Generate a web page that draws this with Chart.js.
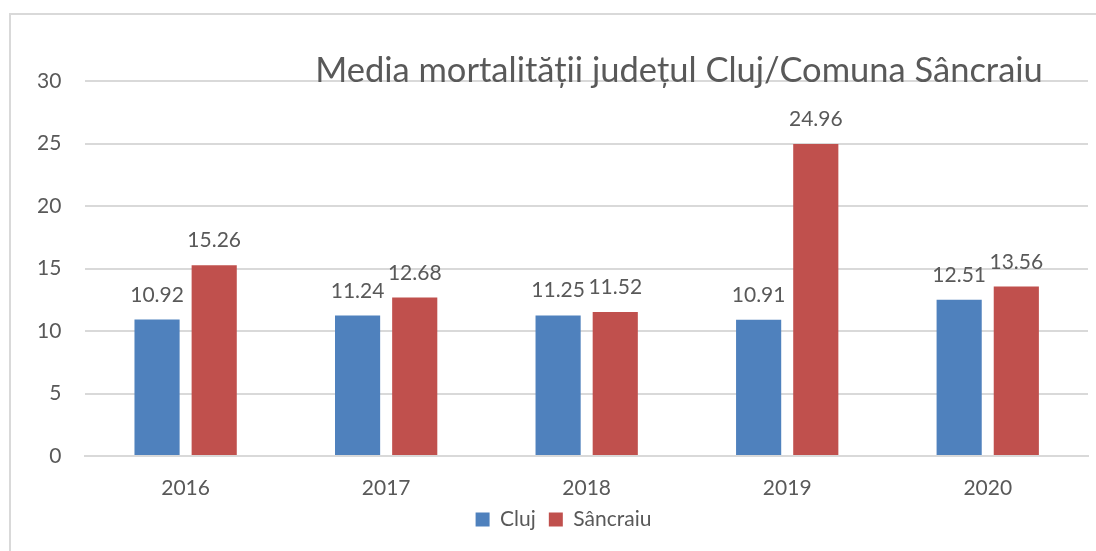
<!DOCTYPE html>
<html>
<head>
<meta charset="utf-8">
<script src="https://cdn.jsdelivr.net/npm/chart.js@4"></script>
<style>
  html, body { margin: 0; padding: 0; background: #fff; overflow: hidden; }
  #frame { position: absolute; left: 9px; top: 13px; width: 1200px; height: 700px; border: 2px solid #d9d9d9; }
  canvas { position: absolute; left: 0; top: 0; }
</style>
</head>
<body>
<div id="frame"></div>
<canvas id="myChart" width="1096" height="551"></canvas>
<script>
var years = ["2016", "2017", "2018", "2019", "2020"];
var clujValues = [10.92, 11.24, 11.25, 10.91, 12.51];
var sancraiuValues = [15.26, 12.68, 11.52, 24.96, 13.56];
var chartTitle = 'Media mortalității județul Cluj/Comuna Sâncraiu';

var textColor = '#595959';
var fontName = 'Lato, "Open Sans", sans-serif';

// value labels above each bar
var barLabels = {
    id: 'barLabels',
    afterDatasetsDraw: function (chart) {
        var ctx = chart.ctx;
        ctx.save();
        ctx.fillStyle = textColor;
        ctx.font = '21px ' + fontName;
        ctx.textAlign = 'center';
        ctx.textBaseline = 'alphabetic';
        chart.data.datasets.forEach(function (ds, i) {
            chart.getDatasetMeta(i).data.forEach(function (bar, j) {
                ctx.fillText(ds.data[j].toFixed(2), bar.x, bar.y - 18);
            });
        });
        ctx.restore();
    }
};

// title sits inside the plot area, over the top gridline
var innerTitle = {
    id: 'innerTitle',
    afterLayout: function (chart) {
        // legend is a bit right of the canvas centre in the original
        chart.legend.left += 13;
        chart.legend.right += 13;
    },
    afterDraw: function (chart) {
        var ctx = chart.ctx;
        ctx.save();
        ctx.fillStyle = textColor;
        ctx.font = '34.5px ' + fontName;
        ctx.textAlign = 'center';
        ctx.textBaseline = 'alphabetic';
        ctx.fillText(chartTitle, 679, chart.chartArea.top + 1);
        ctx.restore();
    }
};

document.addEventListener('DOMContentLoaded', function () {
    var ctx = document.getElementById('myChart').getContext('2d');

    var myChart = new Chart(ctx, {
        type: 'bar',
        data: {
            labels: years,
            datasets: [{
                label: 'Cluj',
                data: clujValues,
                backgroundColor: '#4F81BD',
                barPercentage: 0.79,
                categoryPercentage: 0.57
            },
            {
                label: 'Sâncraiu',
                data: sancraiuValues,
                backgroundColor: '#C0504D',
                barPercentage: 0.79,
                categoryPercentage: 0.57
            }]
        },
        options: {
            responsive: false,
            animation: false,
            layout: {
                padding: { top: 81, left: 13, right: 8, bottom: 11 }
            },
            plugins: {
                title: { display: false },
                tooltip: { enabled: false },
                legend: {
                    position: 'bottom',
                    labels: {
                        color: textColor,
                        font: { family: fontName, size: 21 },
                        boxWidth: 14,
                        boxHeight: 14,
                        padding: 13
                    }
                }
            },
            scales: {
                x: {
                    grid: { display: false },
                    border: { color: '#d9d9d9', width: 2 },
                    ticks: {
                        color: textColor,
                        font: { family: fontName, size: 21 },
                        padding: 12
                    },
                    afterFit: function (axis) {
                        axis.height = 40;
                        // don't clip the year labels to the (shortened) axis box
                        axis._computeLabelArea = function () { return undefined; };
                    }
                },
                y: {
                    min: 0,
                    max: 30,
                    ticks: {
                        stepSize: 5,
                        color: textColor,
                        font: { family: fontName, size: 21 },
                        padding: 24
                    },
                    grid: {
                        color: '#d9d9d9',
                        lineWidth: 2,
                        drawTicks: false
                    },
                    border: { display: false }
                }
            }
        },
        plugins: [barLabels, innerTitle]
    });
});
</script>
</body>
</html>
